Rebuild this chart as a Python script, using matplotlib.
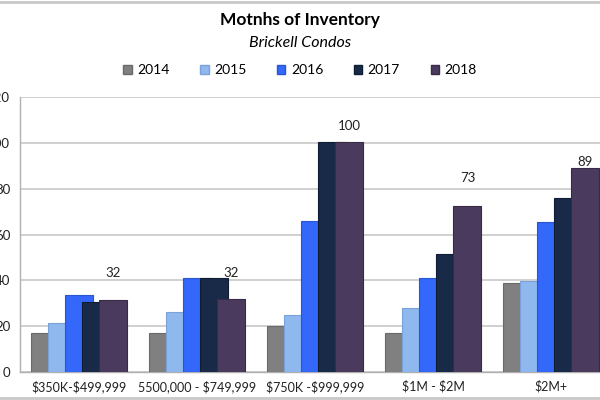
import matplotlib
matplotlib.use("Agg")
import matplotlib.pyplot as plt
from matplotlib.lines import Line2D
from matplotlib.patches import Patch
import numpy as np

categories = ["$350K-$499,999", "5500,000 - $749,999", "$750K -$999,999", "$1M - $2M", "$2M+"]
years = ["2014", "2015", "2016", "2017", "2018"]
v2014 = [17, 17, 20, 17, 39]
v2015 = [21.5, 26, 25, 28, 39.5]
v2016 = [33.5, 41, 66, 41, 65.5]
v2017 = [30.5, 41, 100.5, 51.5, 76]
v2018 = [31.5, 32, 100.5, 72.5, 89]
labels_2018 = ["32", "32", "100", "73", "89"]
label_offsets = [19.5, 18.5, 11, 20, 4]  # points above bar top

colors = ["#808080", "#8fb9ee", "#3468fb", "#182a48", "#4a3a5d"]
edges = ["#6a6a6a", "#7aa2d8", "#2a55d0", "#0f1d33", "#382a48"]

plt.rcParams['font.family'] = ['Lato', 'DejaVu Sans']
plt.rcParams['text.parse_math'] = False

fig = plt.figure(figsize=(6, 4), dpi=100)
ax = fig.add_axes([20/600, 28/400, 590/600, 275/400])

series = [v2014, v2015, v2016, v2017, v2018]
x = np.arange(len(categories))
step = 0.146
width = 0.237
for i, vals in enumerate(series):
    pos = x + (i - 2) * step
    ax.bar(pos, vals, width=width, color=colors[i], edgecolor=edges[i],
           linewidth=0.8, zorder=3 + i, label=years[i])

for xi, v, lab, off in zip(x + 2 * step, v2018, labels_2018, label_offsets):
    ax.annotate(lab, (xi, v), xytext=(0, off), textcoords="offset points",
                ha="center", va="center", fontsize=9.5, color="#222222", zorder=20)

ax.set_xlim(-0.5, 4.5)
ax.set_ylim(0, 120)
ax.set_yticks(np.arange(0, 121, 20))
ax.set_xticks(x)
ax.set_xticklabels(categories, fontsize=9)
ax.tick_params(axis='both', length=0, colors="#222222")
ax.tick_params(axis='y', pad=7, labelsize=9.5)
ax.tick_params(axis='x', pad=6, labelsize=9)
ax.grid(axis='y', color="#c8c8c8", linewidth=1.2, zorder=0)
for s in ["top", "right"]:
    ax.spines[s].set_visible(False)
for s in ["left", "bottom"]:
    ax.spines[s].set_color("#b0b0b0")
    ax.spines[s].set_linewidth(1.0)

fig.text(0.5, 1 - 20/400, "Motnhs of Inventory", ha="center", va="center",
         fontsize=12.5, fontweight="bold")
fig.text(0.5, 1 - 43/400, "Brickell Condos", ha="center", va="center",
         fontsize=11.5, style="italic")

handles = [Patch(facecolor=colors[i], edgecolor=edges[i]) for i in range(5)]
fig.legend(handles, years, loc="center", bbox_to_anchor=(0.5, 1 - 70/400),
           ncol=5, frameon=False, fontsize=10, handlelength=0.6, handleheight=0.6,
           handletextpad=0.4, columnspacing=2.2)

fig.add_artist(Line2D([0, 1], [1 - 1.5/400, 1 - 1.5/400], transform=fig.transFigure,
                      color="#c8c8c8", linewidth=2))
fig.add_artist(Line2D([0, 1], [2.5/400, 2.5/400], transform=fig.transFigure,
                      color="#c8c8c8", linewidth=2))

fig.savefig("out.png", dpi=100)
